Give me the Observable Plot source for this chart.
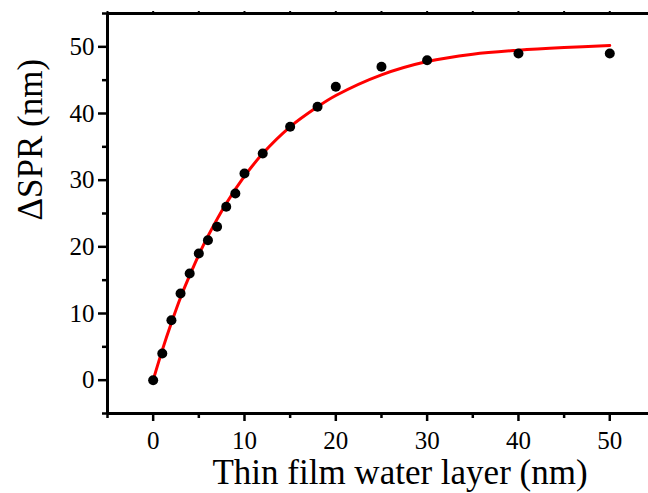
<!DOCTYPE html>
<html><head><meta charset="utf-8">
<script src="https://cdn.jsdelivr.net/npm/d3@7"></script>
<script src="https://cdn.jsdelivr.net/npm/@observablehq/plot@0.6"></script>
<style>body{margin:0;background:#fff} svg text{font-family:'Liberation Serif','Times New Roman',serif !important}</style>
</head><body><div id="chart"></div>
<script>
const thickness = [0,1,2,3,4,5,6,7,8,9,10,12,15,18,20,25,30,40,50];
const shift = [0,4,9,13,16,19,21,23,26,28,31,34,38,41,44,47,48,49,49];
const fitX = [0,1,2,3,4,5,6,8,10,12,15,18,20,25,30,35,40,45,50];
const fitY = [0,4.5,8.6,12.4,15.7,18.8,21.6,26.5,30.6,34.0,38.0,41.0,42.7,45.8,47.8,48.9,49.5,49.9,50.2];
const majorTicks = [0,10,20,30,40,50];
const minorTicks = [-5,5,15,25,35,45,55];
const xTitle = "Thin film water layer (nm)";
const yTitle = "ΔSPR (nm)";

const points = thickness.map((x, i) => ({x, y: shift[i]}));
const fit = fitX.map((x, i) => ({x, y: fitY[i]}));
const ff = "'Liberation Serif', 'Times New Roman', serif";

const chart = Plot.plot({
  width: 648,
  height: 493,
  marginLeft: 107,
  marginRight: 0,
  marginTop: 13,
  marginBottom: 80,
  style: {fontFamily: ff, background: "white", color: "black"},
  x: {domain: [-5, 54.24], axis: null},
  y: {domain: [-5, 55], axis: null},
  marks: [
    Plot.axisY({ticks: majorTicks, tickSize: 9, tickPadding: 4, fontSize: 25, fontFamily: ff, strokeWidth: 2.5, label: null}),
    Plot.axisY({ticks: minorTicks, tickSize: 5, tickFormat: () => "", strokeWidth: 2.5, label: null}),
    Plot.axisX({ticks: majorTicks, tickSize: 8, tickPadding: 10, fontSize: 25, fontFamily: ff, strokeWidth: 2.5, label: null}),
    Plot.axisX({ticks: minorTicks, tickSize: 5, tickFormat: () => "", strokeWidth: 2.5, label: null}),
    Plot.axisX({anchor: "top", ticks: [...majorTicks, ...minorTicks], tickSize: 3, tickFormat: () => "", strokeWidth: 2, label: null}),
    Plot.ruleX([-5], {strokeWidth: 3}),
    Plot.ruleY([-5, 55], {strokeWidth: 3}),
    Plot.line(fit, {x: "x", y: "y", stroke: "#ff0000", strokeWidth: 3, curve: "catmull-rom"}),
    Plot.dot(points, {x: "x", y: "y", r: 5, fill: "black", stroke: "none"}),
    Plot.text([xTitle], {frameAnchor: "bottom", dx: 22, dy: 70, fontSize: 35, fontFamily: ff}),
    Plot.text([yTitle], {frameAnchor: "left", rotate: -90, dx: -77, dy: 7, fontSize: 35, fontFamily: ff})
  ]
});
document.getElementById("chart").appendChild(chart);
</script>
</body></html>
